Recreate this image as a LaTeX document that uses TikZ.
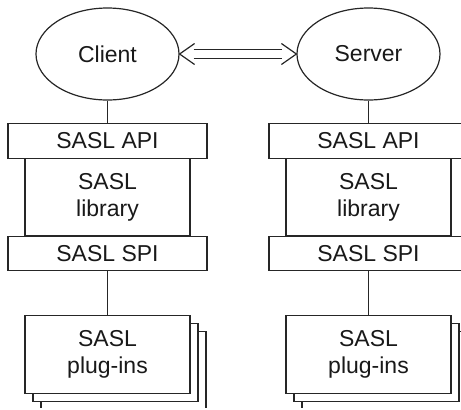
\documentclass[tikz,border=0pt]{standalone}
\usepackage{fontspec}
\setmainfont{Liberation Sans}
\usetikzlibrary{shapes.geometric,shadows}

\begin{document}
\begin{tikzpicture}[x=0.5pt,y=-0.5pt,line width=.6pt,draw=black!85,
  every node/.style={font=\fontsize{11.5}{13.5}\selectfont,text=black!90,align=center,inner sep=0pt},
  peer/.style={draw,ellipse,minimum width=71.5pt,minimum height=46pt},
  iface/.style={draw,fill=white,minimum width=99.5pt,minimum height=17.25pt},
  lib/.style={draw,fill=white,minimum width=82.5pt,minimum height=38.75pt},
  plugs/.style={lib,double copy shadow={shadow xshift=4pt,shadow yshift=-4pt}}]
\useasboundingbox(0,0)rectangle(461,409);
\clip(0,0)rectangle(461,407);
\node[peer](client)at(107.5,54){Client};
\node[peer](server)at(368.5,54){Server};
% double arrow between the peers
\draw([xshift=7pt,yshift=2.25pt]client.east)--([xshift=-7pt,yshift=2.25pt]server.west)
     ([xshift=7pt,yshift=-2.25pt]client.east)--([xshift=-7pt,yshift=-2.25pt]server.west);
\draw([xshift=7.5pt,yshift=5.25pt]client.east)--(client.east)--([xshift=7.5pt,yshift=-5.25pt]client.east);
\draw([xshift=-7.5pt,yshift=5.25pt]server.west)--(server.west)--([xshift=-7.5pt,yshift=-5.25pt]server.west);
\node[lib](clib)at(107.5,197){SASL\\library};
\node[iface](capi)at(107.5,141){SASL API};
\node[iface](cspi)at(107.5,253.5){SASL SPI};
\node[plugs](cplug)at(107.5,354.5){SASL\\plug-ins};
\node[lib](slib)at(368.5,197){SASL\\library};
\node[iface](sapi)at(368.5,141){SASL API};
\node[iface](sspi)at(368.5,253.5){SASL SPI};
\node[plugs](splug)at(368.5,354.5){SASL\\plug-ins};
\draw(client)--(capi)(cspi)--(cplug);
\draw(server)--(sapi)(sspi)--(splug);
\end{tikzpicture}
\end{document}
